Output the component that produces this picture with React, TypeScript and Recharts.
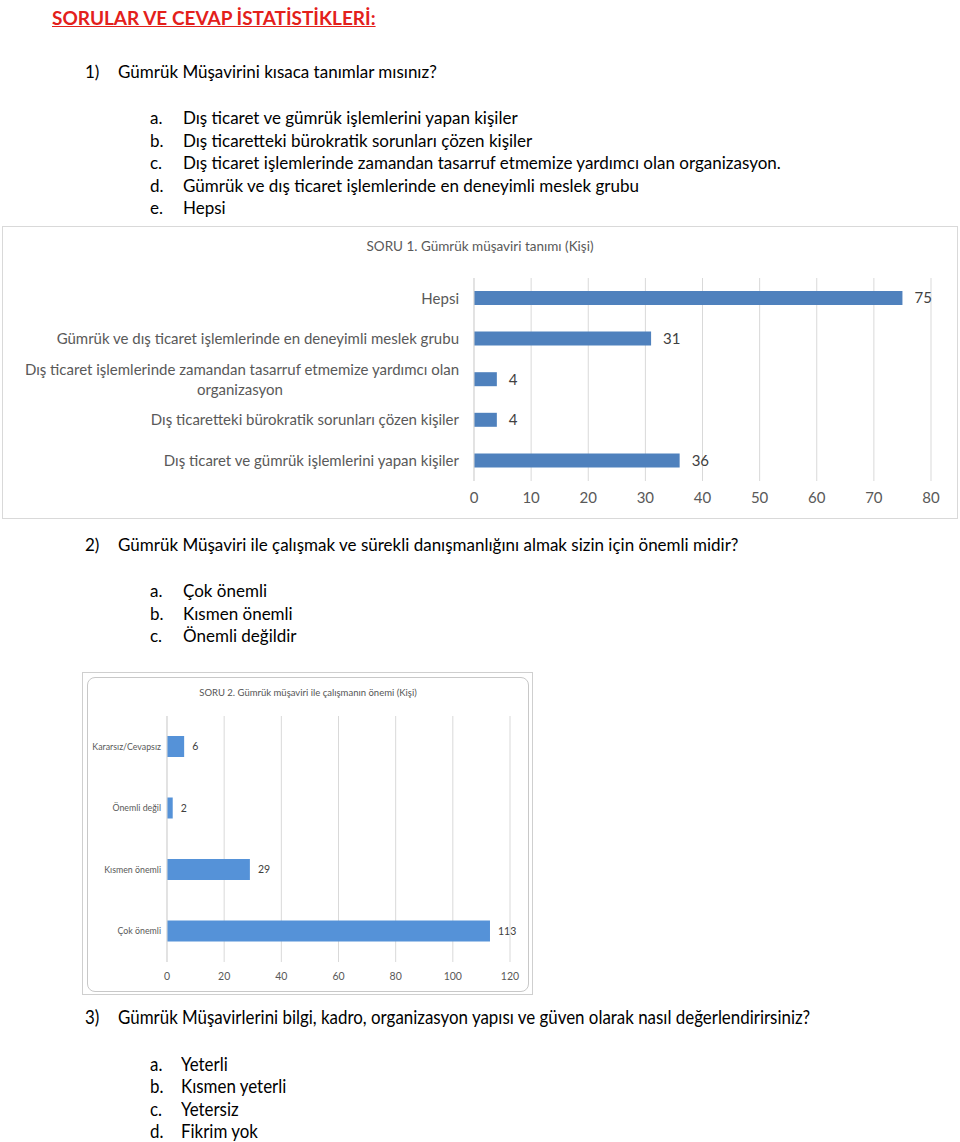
import React from 'react';
import { BarChart, Bar, XAxis, YAxis, CartesianGrid, LabelList } from 'recharts';

const FONT = 'Lato, "Open Sans", sans-serif';

// Soru 1
const q1Categories = [
    'Hepsi',
    'Gümrük ve dış ticaret işlemlerinde en deneyimli meslek grubu',
    'Dış ticaret işlemlerinde zamandan tasarruf etmemize yardımcı olan organizasyon',
    'Dış ticaretteki bürokratik sorunları çözen kişiler',
    'Dış ticaret ve gümrük işlemlerini yapan kişiler',
];
const q1Values = [75, 31, 4, 4, 36];
const q1Ticks = [0, 10, 20, 30, 40, 50, 60, 70, 80];

// Soru 2
const q2Categories = ['Kararsız/Cevapsız', 'Önemli değil', 'Kısmen önemli', 'Çok önemli'];
const q2Values = [6, 2, 29, 113];
const q2Ticks = [0, 20, 40, 60, 80, 100, 120];

const q1Options = [
    'Dış ticaret ve gümrük işlemlerini yapan kişiler',
    'Dış ticaretteki bürokratik sorunları çözen kişiler',
    'Dış ticaret işlemlerinde zamandan tasarruf etmemize yardımcı olan organizasyon.',
    'Gümrük ve dış ticaret işlemlerinde en deneyimli meslek grubu',
    'Hepsi',
];
const q2Options = ['Çok önemli', 'Kısmen önemli', 'Önemli değildir'];
const q3Options = ['Yeterli', 'Kısmen yeterli', 'Yetersiz', 'Fikrim yok'];
const letters = ['a.', 'b.', 'c.', 'd.', 'e.'];

const q1Data = q1Categories.map((name, i) => ({ name, value: q1Values[i] }));
const q2Data = q2Categories.map((name, i) => ({ name, value: q2Values[i] }));

function wrap(text: string, max: number) {
    const lines: string[] = [];
    let cur = '';
    for (const w of text.split(' ')) {
        if (cur && (cur + ' ' + w).length > max) {
            lines.push(cur);
            cur = w;
        } else {
            cur = cur ? cur + ' ' + w : w;
        }
    }
    if (cur) lines.push(cur);
    return lines;
}

const Q1Tick = (props: any) => {
    const { x, y, payload } = props;
    const lines = wrap(payload.value, 66);
    const lh = 20;
    const y0 = y - ((lines.length - 1) * lh) / 2;
    const half = lines[0].length * 3.37;
    return (
        <g>
            {lines.map((l, i) => (
                <text
                    key={i}
                    x={i === 0 ? x : x - half}
                    y={y0 + i * lh}
                    dy="0.35em"
                    textAnchor={i === 0 ? 'end' : 'middle'}
                    fill="#595959"
                    fontSize={15}
                    fontFamily={FONT}
                >
                    {l}
                </text>
            ))}
        </g>
    );
};

const Q2Tick = (props: any) => {
    const { x, y, payload } = props;
    return (
        <text x={x} y={y} dy="0.35em" textAnchor="end" fill="#595959" fontSize={8.8} fontFamily={FONT}>
            {payload.value}
        </text>
    );
};

const Line = ({ x, y, size = 17, children, style }: any) => (
    <div
        style={{
            position: 'absolute',
            left: x,
            top: y - size * 0.65,
            fontSize: size,
            lineHeight: `${size * 1.3}px`,
            whiteSpace: 'nowrap',
            ...style,
        }}
    >
        {children}
    </div>
);

const narrow = { transform: 'scaleX(0.89)', transformOrigin: 'left center' };

export default function App() {
    return (
        <div
            style={{
                position: 'absolute',
                left: 0,
                top: 0,
                width: 960,
                height: 1142,
                background: '#fff',
                fontFamily: FONT,
                color: '#000',
                overflow: 'hidden',
            }}
        >
            <Line x={52} y={18} size={19} style={{ color: '#e3201b', fontWeight: 700, textDecoration: 'underline' }}>
                SORULAR VE CEVAP İSTATİSTİKLERİ:
            </Line>

            <Line x={85} y={72}>1)</Line>
            <Line x={118} y={72}>Gümrük Müşavirini kısaca tanımlar mısınız?</Line>
            {q1Options.map((t, i) => (
                <React.Fragment key={t}>
                    <Line x={150} y={118 + i * 22.6}>{letters[i]}</Line>
                    <Line x={183} y={118 + i * 22.6}>{t}</Line>
                </React.Fragment>
            ))}

            {/* Soru 1 grafik */}
            <div
                style={{
                    position: 'absolute',
                    left: 2,
                    top: 226,
                    width: 956,
                    height: 293,
                    boxSizing: 'border-box',
                    border: '1px solid #d9d9d9',
                }}
            >
                <div
                    style={{
                        position: 'absolute',
                        left: 0,
                        width: 954,
                        top: 11,
                        textAlign: 'center',
                        fontSize: 13.5,
                        color: '#595959',
                    }}
                >
                    SORU 1. Gümrük müşaviri tanımı (Kişi)
                </div>
                <BarChart
                    width={954}
                    height={291}
                    data={q1Data}
                    layout="vertical"
                    margin={{ top: 51, right: 26, left: 0, bottom: 7 }}
                    style={{ position: 'absolute', left: 0, top: 0 }}
                >
                    <CartesianGrid horizontal={false} stroke="#d9d9d9" />
                    <XAxis
                        type="number"
                        domain={[0, 80]}
                        ticks={q1Ticks}
                        axisLine={false}
                        tickLine={false}
                        tickSize={0}
                        tickMargin={11}
                        height={30}
                        tick={{ fill: '#595959', fontSize: 15, fontFamily: FONT }}
                    />
                    <YAxis
                        type="category"
                        dataKey="name"
                        width={471}
                        stroke="#d9d9d9"
                        tickLine={false}
                        tickSize={0}
                        tickMargin={15}
                        interval={0}
                        tick={<Q1Tick />}
                    />
                    <Bar dataKey="value" fill="#4f81bd" barSize={14} isAnimationActive={false}>
                        <LabelList
                            dataKey="value"
                            position="right"
                            offset={12}
                            fill="#404040"
                            fontSize={15}
                            fontFamily={FONT}
                        />
                    </Bar>
                </BarChart>
            </div>

            <Line x={85} y={545}>2)</Line>
            <Line x={118} y={545}>
                Gümrük Müşaviri ile çalışmak ve sürekli danışmanlığını almak sizin için önemli midir?
            </Line>
            {q2Options.map((t, i) => (
                <React.Fragment key={t}>
                    <Line x={150} y={591 + i * 22.6}>{letters[i]}</Line>
                    <Line x={183} y={591 + i * 22.6}>{t}</Line>
                </React.Fragment>
            ))}

            {/* Soru 2 grafik (ekran görüntüsü) */}
            <div
                style={{
                    position: 'absolute',
                    left: 82,
                    top: 672,
                    width: 451,
                    height: 323,
                    boxSizing: 'border-box',
                    border: '1px solid #cfcfcf',
                    background: '#fff',
                }}
            />
            <div
                style={{
                    position: 'absolute',
                    left: 87,
                    top: 677,
                    width: 442,
                    height: 315,
                    boxSizing: 'border-box',
                    border: '1px solid #c8c8c8',
                    borderRadius: 8,
                }}
            >
                <div
                    style={{
                        position: 'absolute',
                        left: 0,
                        width: 440,
                        top: 9,
                        textAlign: 'center',
                        fontSize: 9.5,
                        color: '#555',
                    }}
                >
                    SORU 2. Gümrük müşaviri ile çalışmanın önemi (Kişi)
                </div>
                <BarChart
                    width={440}
                    height={313}
                    data={q2Data}
                    layout="vertical"
                    margin={{ top: 38, right: 18, left: 0, bottom: 5 }}
                    style={{ position: 'absolute', left: 0, top: 0 }}
                >
                    <CartesianGrid horizontal={false} stroke="#d9d9d9" />
                    <XAxis
                        type="number"
                        domain={[0, 120]}
                        ticks={q2Ticks}
                        axisLine={false}
                        tickLine={false}
                        tickSize={0}
                        tickMargin={11}
                        height={24}
                        tick={{ fill: '#595959', fontSize: 10.5, fontFamily: FONT }}
                    />
                    <YAxis
                        type="category"
                        dataKey="name"
                        width={79}
                        stroke="#d9d9d9"
                        tickLine={false}
                        tickSize={0}
                        tickMargin={6}
                        interval={0}
                        tick={<Q2Tick />}
                    />
                    <Bar dataKey="value" fill="#5592d8" barSize={21} isAnimationActive={false}>
                        <LabelList
                            dataKey="value"
                            position="right"
                            offset={8}
                            fill="#404040"
                            fontSize={10.5}
                            fontFamily={FONT}
                        />
                    </Bar>
                </BarChart>
            </div>

            <Line x={85} y={1017} size={19} style={narrow}>
                3)
            </Line>
            <Line x={118} y={1017} size={19} style={narrow}>
                Gümrük Müşavirlerini bilgi, kadro, organizasyon yapısı ve güven olarak nasıl değerlendirirsiniz?
            </Line>
            {q3Options.map((t, i) => (
                <React.Fragment key={t}>
                    <Line x={150} y={1064 + i * 22.5} size={19} style={narrow}>
                        {letters[i]}
                    </Line>
                    <Line x={181} y={1064 + i * 22.5} size={19} style={narrow}>
                        {t}
                    </Line>
                </React.Fragment>
            ))}
        </div>
    );
}
